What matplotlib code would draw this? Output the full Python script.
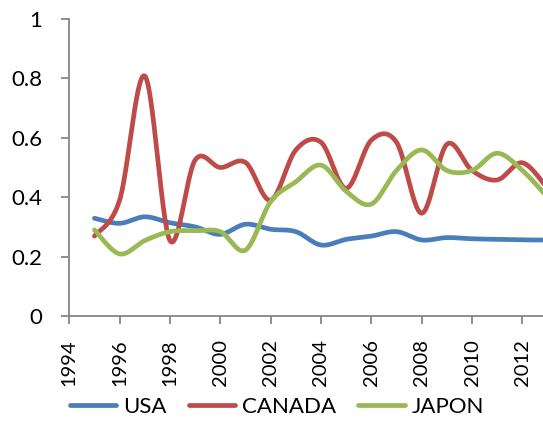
import numpy as np
import matplotlib
matplotlib.use("Agg")
import matplotlib.pyplot as plt

years = list(range(1995, 2014))
usa = [0.329, 0.312, 0.334, 0.314, 0.300, 0.275, 0.309, 0.292, 0.284, 0.239,
       0.258, 0.269, 0.284, 0.256, 0.264, 0.260, 0.258, 0.256, 0.256]
canada = [0.269, 0.390, 0.808, 0.254, 0.525, 0.500, 0.517, 0.390, 0.559, 0.585,
          0.430, 0.592, 0.585, 0.346, 0.578, 0.490, 0.458, 0.516, 0.430]
japon = [0.290, 0.209, 0.254, 0.284, 0.287, 0.284, 0.222, 0.385, 0.452, 0.508,
         0.420, 0.377, 0.490, 0.559, 0.490, 0.490, 0.548, 0.490, 0.400]

series_names = ["USA", "CANADA", "JAPON"]
colors = ["#4A7EBB", "#BE4B48", "#98B954"]
x_ticks = list(range(1994, 2013, 2))
y_ticks = [0, 0.2, 0.4, 0.6, 0.8, 1]


def smooth(xs, ys, n=30):
    """Catmull-Rom style smoothed curve through the points (like Excel's smoothed lines)."""
    xs = np.asarray(xs, float)
    ys = np.asarray(ys, float)
    px = np.concatenate([[xs[0]], xs, [xs[-1]]])
    py = np.concatenate([[ys[0]], ys, [ys[-1]]])
    out_x, out_y = [], []
    t = np.linspace(0, 1, n, endpoint=False)
    for i in range(1, len(px) - 2):
        p0x, p1x, p2x, p3x = px[i - 1:i + 3]
        p0y, p1y, p2y, p3y = py[i - 1:i + 3]
        c1x, c1y = p1x + (p2x - p0x) / 6, p1y + (p2y - p0y) / 6
        c2x, c2y = p2x - (p3x - p1x) / 6, p2y - (p3y - p1y) / 6
        bx = (1 - t) ** 3 * p1x + 3 * (1 - t) ** 2 * t * c1x + 3 * (1 - t) * t ** 2 * c2x + t ** 3 * p2x
        by = (1 - t) ** 3 * p1y + 3 * (1 - t) ** 2 * t * c1y + 3 * (1 - t) * t ** 2 * c2y + t ** 3 * p2y
        out_x.extend(bx)
        out_y.extend(by)
    out_x.append(xs[-1])
    out_y.append(ys[-1])
    return np.array(out_x), np.array(out_y)


plt.rcParams["font.family"] = ["Lato", "DejaVu Sans"]

fig = plt.figure(figsize=(5.43, 4.21), dpi=100)
ax = fig.add_axes([0.1276, 0.2494, 0.8724, 0.7055])

for name, vals, col in zip(series_names, [usa, canada, japon], colors):
    sx, sy = smooth(years, vals)
    ax.plot(sx, sy, color=col, lw=3.4, label=name, solid_capstyle="round")

ax.set_xlim(1994, 2012.82)
ax.set_ylim(0, 1)
ax.set_xticks(x_ticks)
ax.set_xticklabels([str(v) for v in x_ticks], rotation=90)
ax.set_yticks(y_ticks)
ax.set_yticklabels(["0", "0.2", "0.4", "0.6", "0.8", "1"])

for side in ["top", "right"]:
    ax.spines[side].set_visible(False)
for side in ["left", "bottom"]:
    ax.spines[side].set_color("#868686")
    ax.spines[side].set_linewidth(1.3)
ax.tick_params(axis="both", direction="out", length=5.5, width=1.3, color="#868686",
               labelsize=16, labelcolor="black")
ax.tick_params(axis="y", pad=14)
ax.tick_params(axis="x", pad=11, labelsize=14.5)

fig.legend(loc="center", bbox_to_anchor=(0.51, 0.033), ncol=3, frameon=False,
           fontsize=16, handlelength=2.1, handletextpad=0.3, columnspacing=1.0,
           borderpad=0.1)

fig.savefig("out.png", dpi=100)
